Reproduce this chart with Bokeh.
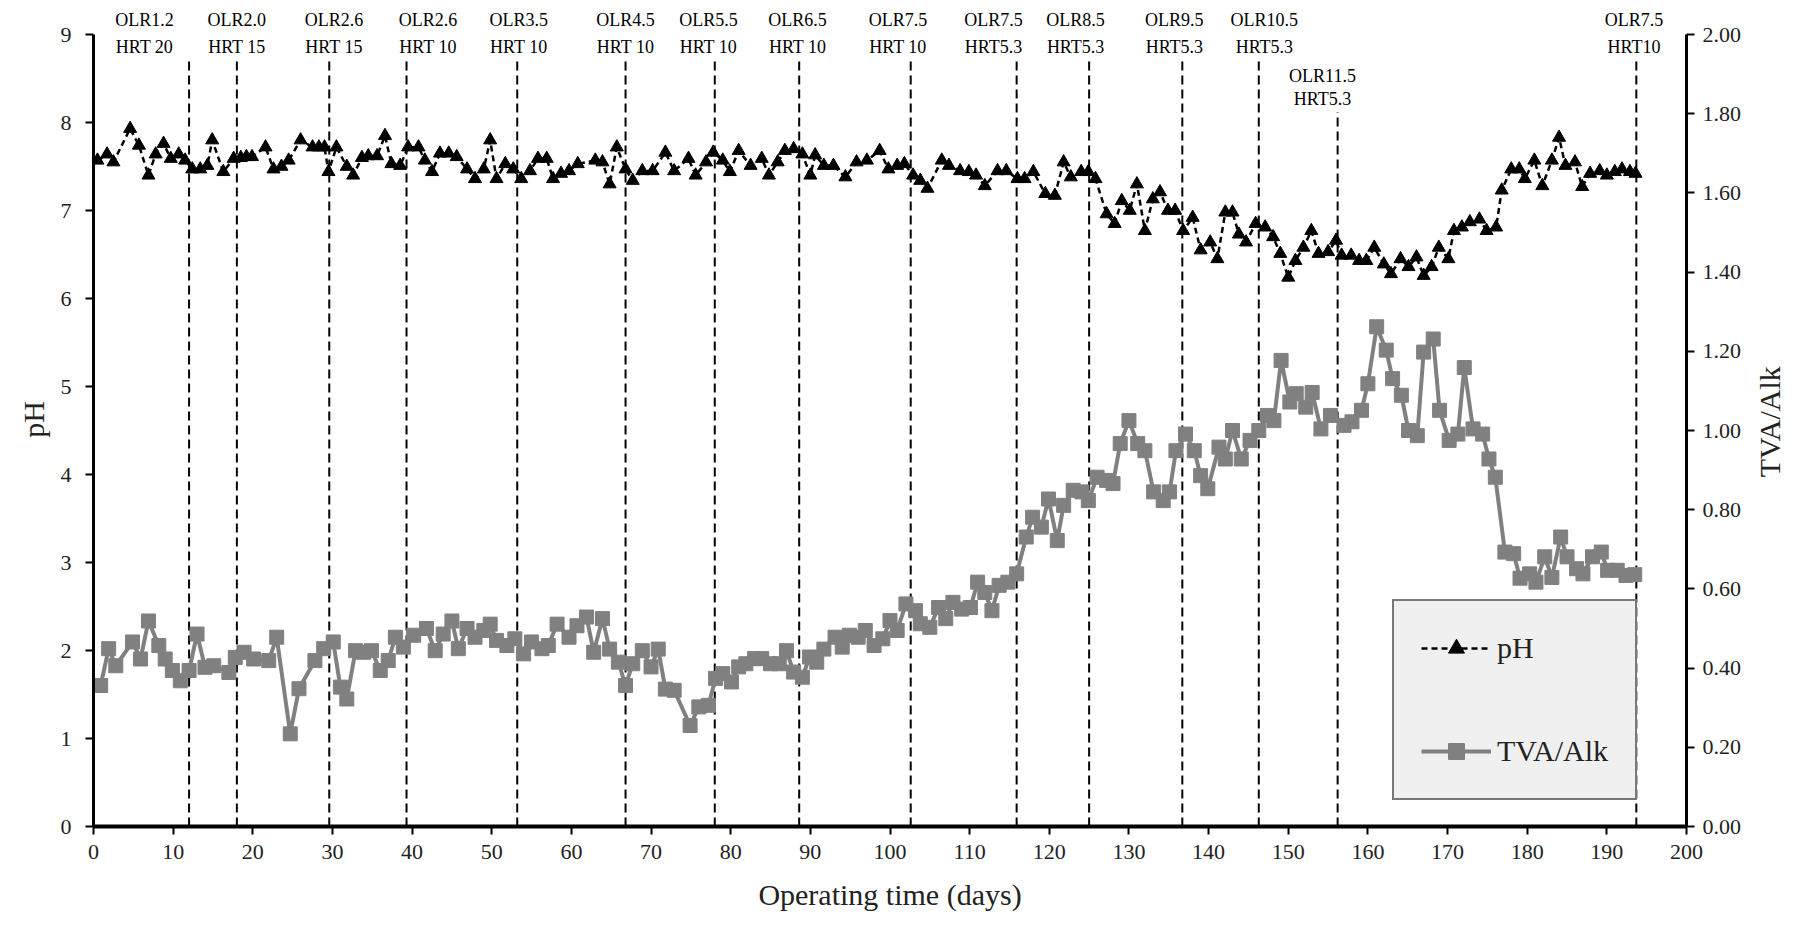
import math
from bokeh.plotting import figure
from bokeh.layouts import row
from bokeh.models import (Range1d, LinearAxis, FixedTicker, Legend, LegendItem,
                          NumeralTickFormatter, ColumnDataSource)
from bokeh.core.properties import value
from bokeh.embed import file_html
from bokeh.resources import INLINE

# ---------------- data ----------------
ph_day = [0.5, 1.7, 2.5, 4.6, 5.7, 6.9, 7.8, 8.8, 9.7, 10.7, 11.5, 12.4, 13.4, 14.3, 14.9,
          16.3, 17.6, 18.5, 19.2, 19.9, 21.6, 22.6, 23.6, 24.5, 26.0, 27.5, 28.3, 29.0, 29.5,
          30.5, 31.8, 32.6, 33.7, 34.5, 35.6, 36.6, 37.4, 38.5, 39.5, 40.8, 41.6, 42.5, 43.5,
          44.6, 45.6, 46.9, 47.9, 49.0, 49.8, 50.6, 51.7, 52.7, 53.7, 54.8, 55.8, 56.9, 57.7,
          58.7, 59.7, 60.8, 63.0, 63.9, 64.8, 65.7, 66.8, 67.7, 68.9, 70.2, 71.8, 72.9, 74.7,
          75.6, 76.9, 77.8, 79.0, 79.9, 81.0, 82.5, 83.9, 84.8, 85.9, 86.8, 87.9, 89.0, 90.0,
          90.6, 91.7, 92.9, 94.4, 95.8, 97.1, 98.7, 99.8, 100.9, 101.8, 102.9, 103.8, 104.7,
          106.5, 107.4, 108.8, 109.9, 110.8, 111.9, 113.5, 114.6, 116.0, 116.9, 118.0, 119.5,
          120.7, 121.8, 122.7, 124.0, 124.9, 125.8, 127.2, 128.2, 129.1, 130.1, 131.0, 132.0,
          133.0, 133.9, 134.9, 135.8, 136.8, 138.0, 139.0, 140.2, 141.1, 142.1, 143.0, 143.8,
          144.7, 145.9, 147.1, 148.1, 149.0, 150.0, 150.9, 151.9, 152.9, 153.8, 155.0, 156.0,
          156.7, 157.9, 158.9, 159.8, 160.8, 162.0, 162.9, 164.1, 165.1, 166.1, 167.0, 168.0,
          168.9, 170.1, 170.8, 171.8, 172.8, 174.0, 174.9, 176.1, 176.8, 178.0, 179.0, 179.7,
          180.9, 181.9, 183.1, 184.0, 184.8, 186.0, 186.9, 187.9, 189.1, 190.0, 191.0, 191.9,
          192.9, 193.6]
ph_val = [7.57, 7.64, 7.55, 7.93, 7.74, 7.40, 7.64, 7.76, 7.59, 7.64, 7.57, 7.47, 7.47, 7.51, 7.80,
          7.44, 7.59, 7.60, 7.61, 7.61, 7.72, 7.47, 7.50, 7.57, 7.80, 7.72, 7.72, 7.72, 7.44,
          7.72, 7.50, 7.40, 7.60, 7.62, 7.62, 7.85, 7.53, 7.51, 7.72, 7.72, 7.57, 7.44, 7.65,
          7.65, 7.61, 7.47, 7.36, 7.47, 7.80, 7.36, 7.53, 7.47, 7.36, 7.45, 7.59, 7.59, 7.36,
          7.42, 7.45, 7.53, 7.57, 7.55, 7.30, 7.72, 7.47, 7.34, 7.45, 7.45, 7.66, 7.45, 7.59,
          7.40, 7.55, 7.66, 7.57, 7.44, 7.68, 7.51, 7.59, 7.40, 7.55, 7.68, 7.70, 7.64, 7.40,
          7.63, 7.51, 7.51, 7.38, 7.55, 7.57, 7.68, 7.47, 7.51, 7.53, 7.40, 7.34, 7.25,
          7.57, 7.51, 7.45, 7.44, 7.40, 7.28, 7.45, 7.45, 7.36, 7.36, 7.44, 7.19,
          7.17, 7.55, 7.38, 7.44, 7.44, 7.36, 6.96, 6.85, 7.11, 7.00, 7.30, 6.77,
          7.13, 7.21, 7.00, 7.00, 6.77, 6.92, 6.55, 6.64, 6.45, 6.98, 6.98, 6.73,
          6.64, 6.85, 6.81, 6.70, 6.51, 6.24, 6.43, 6.58, 6.77, 6.51, 6.53, 6.66,
          6.49, 6.49, 6.43, 6.43, 6.58, 6.39, 6.28, 6.45, 6.36, 6.47, 6.26, 6.36,
          6.58, 6.45, 6.77, 6.81, 6.87, 6.90, 6.77, 6.81, 7.23, 7.47, 7.47, 7.36,
          7.57, 7.28, 7.57, 7.83, 7.51, 7.55, 7.27, 7.42, 7.45, 7.40, 7.44, 7.47,
          7.44, 7.42]

tva_day = [0.9, 1.9, 2.8, 4.9, 5.9, 6.9, 8.2, 9.0, 9.9, 10.9, 12.0, 13.0, 14.0, 15.1, 17.0,
           17.8, 18.9, 20.1, 22.0, 23.0, 24.7, 25.8, 27.8, 28.9, 30.1, 31.0, 31.8, 32.9, 33.9,
           34.9, 36.0, 37.0, 37.9, 38.9, 40.2, 41.8, 42.9, 43.9, 45.0, 45.8, 46.9, 47.9, 49.0,
           49.8, 50.6, 51.9, 52.9, 54.0, 55.0, 56.3, 57.1, 58.2, 59.7, 60.7, 61.9, 62.8, 63.9,
           64.8, 65.9, 66.8, 67.7, 68.9, 70.0, 70.9, 71.8, 72.9, 74.9, 76.0, 77.2, 78.1, 79.0,
           80.1, 81.0, 81.9, 83.0, 83.9, 85.0, 86.1, 87.0, 87.9, 89.0, 89.9, 90.8, 91.7, 93.1,
           94.0, 94.9, 96.0, 96.9, 98.0, 99.1, 100.0, 100.9, 102.0, 103.2, 103.8, 105.0, 106.1,
           107.0, 107.9, 109.0, 110.1, 111.0, 111.9, 112.8, 113.7, 114.8, 115.9, 117.1, 117.9,
           119.0, 119.9, 121.0, 121.8, 123.0, 124.1, 124.9, 126.0, 127.2, 128.0, 128.9, 130.0,
           131.1, 132.0, 133.1, 134.3, 135.1, 135.9, 137.1, 138.2, 139.0, 139.9, 141.3, 142.1,
           143.0, 144.1, 145.2, 146.3, 147.4, 148.2, 149.1, 150.2, 151.0, 152.2, 153.0, 154.1,
           155.3, 157.0, 158.0, 159.2, 160.0, 161.1, 162.3, 163.1, 164.2, 165.1, 166.2, 167.0,
           168.2, 169.0, 170.2, 171.3, 172.1, 173.2, 174.4, 175.2, 176.0, 177.2, 178.3, 179.1,
           180.3, 181.1, 182.2, 183.1, 184.2, 185.0, 186.2, 187.0, 188.2, 189.3, 190.1, 191.3,
           192.4, 193.5]
tva_val = [0.356, 0.449, 0.406, 0.466, 0.423, 0.519, 0.457, 0.423, 0.394, 0.368, 0.394, 0.486,
           0.402, 0.406, 0.389, 0.427, 0.440, 0.423, 0.419, 0.478, 0.234, 0.348, 0.419, 0.449,
           0.466, 0.352, 0.322, 0.444, 0.440, 0.444, 0.394, 0.419, 0.478, 0.453, 0.483, 0.500,
           0.444, 0.486, 0.519, 0.449, 0.500, 0.478, 0.495, 0.511, 0.470, 0.457, 0.474, 0.436,
           0.466, 0.449, 0.457, 0.511, 0.478, 0.507, 0.529, 0.440, 0.525, 0.448, 0.415, 0.356,
           0.411, 0.444, 0.403, 0.448, 0.347, 0.344, 0.255, 0.302, 0.306, 0.374, 0.386, 0.365,
           0.403, 0.411, 0.424, 0.424, 0.411, 0.411, 0.444, 0.390, 0.377, 0.428, 0.415, 0.448,
           0.478, 0.453, 0.483, 0.478, 0.495, 0.457, 0.474, 0.520, 0.495, 0.562, 0.545, 0.512,
           0.503, 0.553, 0.525, 0.566, 0.549, 0.553, 0.617, 0.591, 0.545, 0.609, 0.617, 0.638,
           0.731, 0.781, 0.756, 0.827, 0.722, 0.811, 0.849, 0.845, 0.823, 0.882, 0.874, 0.866,
           0.967, 1.025, 0.967, 0.949, 0.845, 0.823, 0.845, 0.949, 0.991, 0.949, 0.886, 0.853,
           0.958, 0.928, 1.000, 0.928, 0.975, 1.000, 1.038, 1.025, 1.177, 1.072, 1.093, 1.059,
           1.096, 1.004, 1.038, 1.013, 1.022, 1.051, 1.118, 1.262, 1.203, 1.131, 1.089, 1.000,
           0.987, 1.198, 1.231, 1.051, 0.975, 0.991, 1.159, 1.004, 0.991, 0.928, 0.882, 0.693,
           0.689, 0.627, 0.638, 0.617, 0.681, 0.629, 0.731, 0.681, 0.651, 0.638, 0.681, 0.693,
           0.647, 0.647, 0.634, 0.636]

phase_day = [12, 18, 29.6, 39.3, 53.2, 66.8, 78, 88.6, 102.6, 115.9, 125, 136.7, 146.3, 156.2, 193.7]
phase_top = [8.7, 8.7, 8.7, 8.7, 8.7, 8.7, 8.7, 8.7, 8.7, 8.7, 8.7, 8.7, 8.7, 8.12, 8.7]

ann_day = [6.4, 18.0, 30.2, 42.0, 53.4, 66.8, 77.2, 88.4, 101.0, 113.0, 123.3, 135.7, 147.0, 154.3, 193.4]
ann_olr = ["OLR1.2", "OLR2.0", "OLR2.6", "OLR2.6", "OLR3.5", "OLR4.5", "OLR5.5", "OLR6.5",
           "OLR7.5", "OLR7.5", "OLR8.5", "OLR9.5", "OLR10.5", "OLR11.5", "OLR7.5"]
ann_hrt = ["HRT 20", "HRT 15", "HRT 15", "HRT 10", "HRT 10", "HRT 10", "HRT 10", "HRT 10",
           "HRT 10", "HRT5.3", "HRT5.3", "HRT5.3", "HRT5.3", "HRT5.3", "HRT10"]
ann_olr_y = [9.16] * 13 + [8.53] + [9.16]
ann_hrt_y = [8.86] * 13 + [8.27] + [8.86]

x_ticks = list(range(0, 201, 10))
ph_ticks = list(range(0, 10))
tva_ticks = [0.0, 0.2, 0.4, 0.6, 0.8, 1.0, 1.2, 1.4, 1.6, 1.8, 2.0]
right_title = "TVA/Alk"

# ---------------- figure ----------------
FONT = "Liberation Serif"
Y_TOP = 9.25

p = figure(width=1744, height=920, output_backend="svg", toolbar_location=None,
           x_range=Range1d(0, 200), y_range=Range1d(0, Y_TOP),
           min_border_left=93, min_border_right=56, min_border_top=12, min_border_bottom=94)
p.extra_y_ranges = {"tva": Range1d(0, Y_TOP / 4.5)}
p.outline_line_color = None
p.grid.visible = False
p.background_fill_color = "white"

# phase lines
p.segment(x0=phase_day, y0=[0] * len(phase_day), x1=phase_day, y1=phase_top,
          line_color="black", line_width=2, line_dash="9 5")

# TVA/Alk
tva_line = p.line(tva_day, tva_val, y_range_name="tva", line_color="#808080", line_width=4)
tva_pts = p.scatter(tva_day, tva_val, y_range_name="tva", marker="square", size=14,
                    fill_color="#808080", line_color="#808080")

# pH
ph_line = p.line(ph_day, ph_val, line_color="black", line_width=2.5, line_dash="6 4")
ph_pts = p.scatter(ph_day, ph_val, marker="triangle", size=13,
                   fill_color="black", line_color="black")

# annotations
src_ann = ColumnDataSource(dict(x=ann_day, olr=ann_olr, hrt=ann_hrt, yo=ann_olr_y, yh=ann_hrt_y))
p.text(x="x", y="yo", text="olr", source=src_ann, text_align="center", text_baseline="middle",
       text_font=value(FONT), text_font_size="18px", text_color="black")
p.text(x="x", y="yh", text="hrt", source=src_ann, text_align="center", text_baseline="middle",
       text_font=value(FONT), text_font_size="18px", text_color="black")

# axes
xa = p.xaxis[0]
xa.ticker = FixedTicker(ticks=x_ticks)
xa.bounds = (0, 200)
xa.axis_label = "Operating time (days)"
ya = p.yaxis[0]
ya.ticker = FixedTicker(ticks=ph_ticks)
ya.bounds = (0, 9)
ya.axis_label = "pH"

ra = LinearAxis(y_range_name="tva", ticker=FixedTicker(ticks=tva_ticks), bounds=(0, 2),
                formatter=NumeralTickFormatter(format="0.00"))
p.add_layout(ra, "right")

for ax in (xa, ya, ra):
    ax.axis_line_color = "black"
    ax.axis_line_width = 3
    ax.major_tick_line_color = "black"
    ax.major_tick_line_width = 2
    ax.major_tick_out = 8
    ax.major_tick_in = 0
    ax.minor_tick_line_color = None
    ax.major_label_text_font = FONT
    ax.major_label_text_font_size = "22px"
    ax.major_label_text_color = "#222222"
    ax.axis_label_text_font = FONT
    ax.axis_label_text_font_size = "30px"
    ax.axis_label_text_font_style = "normal"
    ax.axis_label_text_color = "#222222"
xa.axis_line_width = 4
xa.major_label_standoff = 10
xa.axis_label_standoff = 16
ya.major_label_standoff = 14
ya.axis_label_standoff = 8
ra.major_label_standoff = 8

legend = Legend(items=[LegendItem(label="pH", renderers=[ph_line, ph_pts]),
                       LegendItem(label="TVA/Alk", renderers=[tva_line, tva_pts])],
                location=(1299, 26), margin=0, padding=27, spacing=63,
                glyph_width=70, glyph_height=40, label_height=40, label_standoff=6,
                label_text_font=FONT, label_text_font_size="30px", label_text_color="#222222",
                background_fill_color="#f0f0f0", background_fill_alpha=1.0,
                border_line_color="black", border_line_width=2.5)
p.add_layout(legend, "center")

# narrow strip holding the right-axis title, read bottom-to-top as in the original
p2 = figure(width=50, height=920, output_backend="svg", toolbar_location=None,
            x_range=Range1d(0, 1), y_range=Range1d(0, Y_TOP),
            min_border_left=0, min_border_right=0, min_border_top=12, min_border_bottom=94)
p2.axis.visible = False
p2.grid.visible = False
p2.outline_line_color = None
p2.text(x=[0.5], y=[4.6], text=[right_title], angle=math.pi / 2,
        text_align="center", text_baseline="middle",
        text_font=value(FONT), text_font_size="30px", text_color="#222222")

open("out.html", "w").write(file_html(row(p, p2), INLINE))
